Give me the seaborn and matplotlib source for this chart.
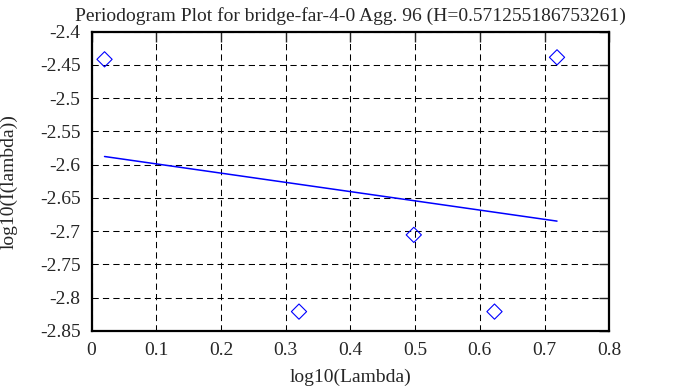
import numpy as np
import pandas as pd
import matplotlib
matplotlib.use("Agg")
import matplotlib.pyplot as plt
import seaborn as sns

# values
log_lambda = [0.0201, 0.3206, 0.4980, 0.6227, 0.7193]
log_periodogram = [-2.4415, -2.8210, -2.7056, -2.8210, -2.4385]
hurst = "0.571255186753261"
x_ticks = [0, 0.1, 0.2, 0.3, 0.4, 0.5, 0.6, 0.7, 0.8]
y_ticks = [-2.4, -2.45, -2.5, -2.55, -2.6, -2.65, -2.7, -2.75, -2.8, -2.85]

df = pd.DataFrame({"x": log_lambda, "y": log_periodogram})

sns.set_style("white")
plt.rcParams["font.family"] = ["Liberation Serif", "DejaVu Serif"]
plt.rcParams["lines.scale_dashes"] = False

fig = plt.figure(figsize=(6.83, 3.87), dpi=100)
ax = fig.add_axes([0.134, 0.145, 0.758, 0.773])

sns.regplot(data=df, x="x", y="y", ax=ax, scatter=False, ci=None,
            line_kws={"color": "#0000ff", "lw": 1.1})
sns.scatterplot(data=df, x="x", y="y", ax=ax, marker="D", s=60,
                facecolors="none", edgecolor="#0000ff", linewidth=0.8, zorder=5)

ax.set_xlim(0, 0.8)
ax.set_ylim(-2.85, -2.4)
ax.set_xticks(x_ticks)
ax.set_yticks(y_ticks)
ax.set_xticklabels([f"{t:g}" for t in x_ticks])
ax.set_yticklabels([f"{t:g}" for t in y_ticks])
ax.grid(True, color="black", lw=0.75, linestyle=(0, (4.5, 3)))
ax.tick_params(direction="in", length=7, width=1, top=True, right=True,
               labelsize=14, pad=8)
for sp in ax.spines.values():
    sp.set_visible(True)
    sp.set_color("black")
    sp.set_linewidth(1.6)

ax.set_xlabel("log10(Lambda)", fontsize=14, labelpad=7)
ax.set_ylabel("log10(I(lambda))", fontsize=14, labelpad=16)
ax.set_title(f"Periodogram Plot for bridge-far-4-0 Agg. 96 (H={hurst})",
             fontsize=14, pad=8)

fig.savefig("out.png", dpi=100)
